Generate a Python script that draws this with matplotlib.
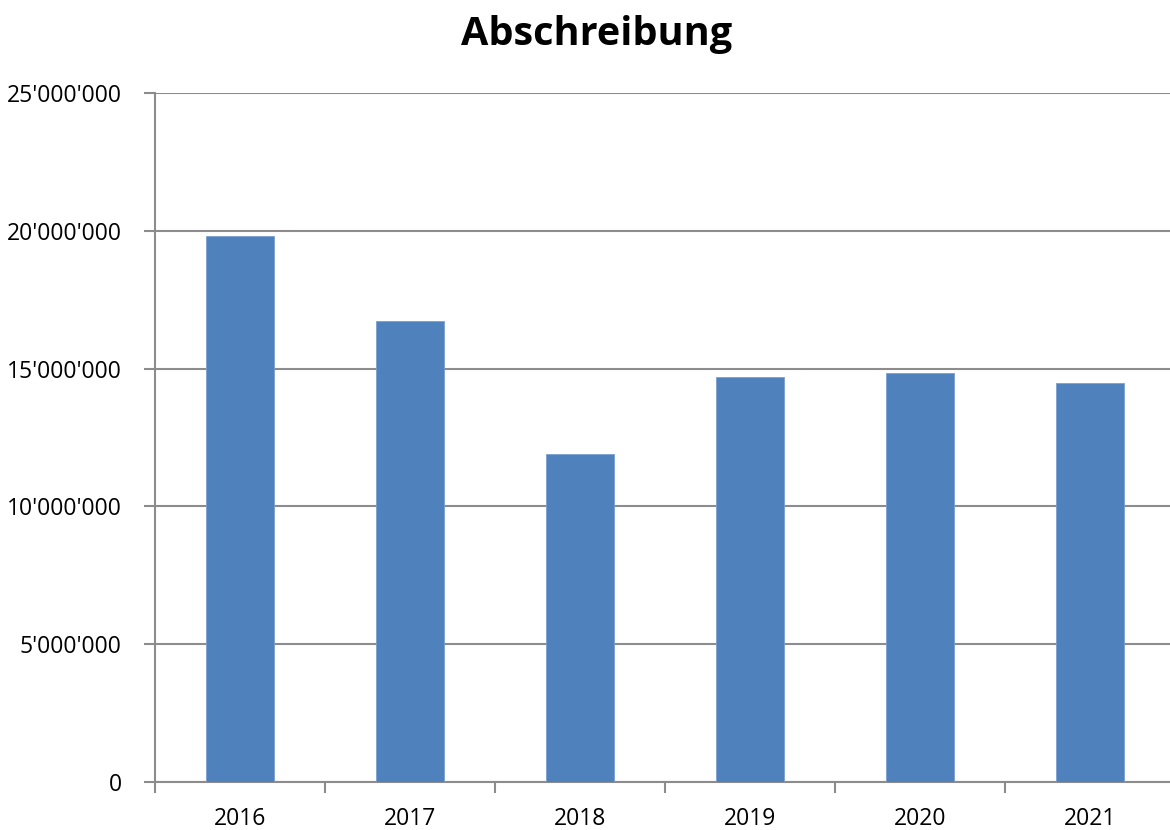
import matplotlib
matplotlib.use('Agg')
import matplotlib.pyplot as plt
from matplotlib.ticker import FuncFormatter, FixedLocator

# Abschreibung pro Jahr
jahre = ['2016', '2017', '2018', '2019', '2020', '2021']
abschreibung = [19820000, 16710000, 11900000, 14700000, 14830000, 14460000]

plt.rcParams['font.family'] = ['Open Sans', 'DejaVu Sans']

fig = plt.figure(figsize=(11.7, 8.3), dpi=100)
# axes runs slightly past the right edge like the original
ax = fig.add_axes([155 / 1170, 1 - 782 / 830, 1020 / 1170, (782 - 93) / 830])

x = list(range(len(jahre)))
ax.bar(x, abschreibung, width=0.4, color='#4F81BD', edgecolor='#7A9FD0', linewidth=0.6, zorder=3)

ax.set_xlim(-0.5, len(jahre) - 0.5)
ax.set_ylim(0, 25000000)
ax.set_yticks(range(0, 25000001, 5000000))
ax.yaxis.set_major_formatter(FuncFormatter(lambda v, p: f"{v:,.0f}".replace(",", "'")))
ax.grid(axis='y', color='#8C8C8C', linewidth=1.5, zorder=0)

ax.set_xticks(x)
ax.set_xticklabels(jahre)
ax.xaxis.set_minor_locator(FixedLocator([i - 0.5 for i in range(len(jahre) + 1)]))
ax.tick_params(axis='x', which='major', length=0, pad=18, labelsize=16.5)
ax.tick_params(axis='x', which='minor', length=8, width=1.5, color='#8C8C8C')
ax.tick_params(axis='y', length=8, width=1.5, color='#8C8C8C', pad=16, labelsize=16.5)

for s in ['top', 'right']:
    ax.spines[s].set_visible(False)
for s in ['left', 'bottom']:
    ax.spines[s].set_color('#8C8C8C')
    ax.spines[s].set_linewidth(1.5)

fig.text(597 / 1170, 1 - 35 / 830, 'Abschreibung', ha='center', va='center',
         fontsize=28.5, fontweight='bold')

fig.savefig('out.png', dpi=100)
